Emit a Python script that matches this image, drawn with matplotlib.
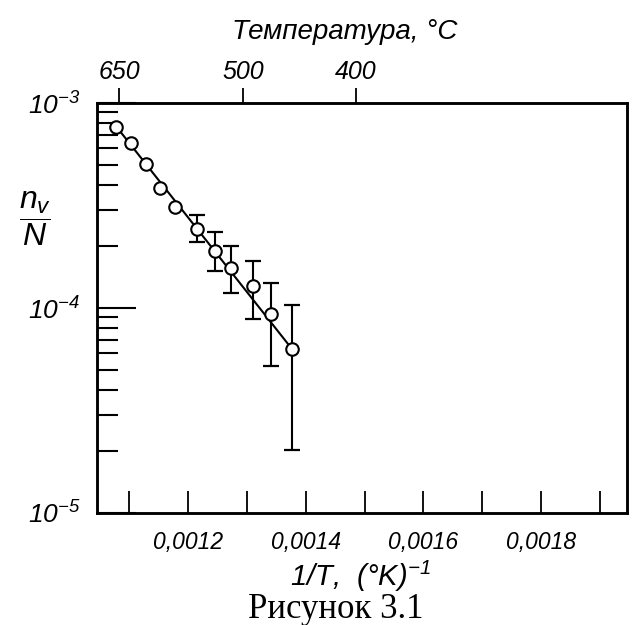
import numpy as np
import matplotlib
matplotlib.use("Agg")
import matplotlib.pyplot as plt
from matplotlib.ticker import LogLocator, NullFormatter, FixedLocator

plt.rcParams['font.family'] = ['Liberation Sans', 'DejaVu Sans']
plt.rcParams['font.style'] = 'italic'
plt.rcParams['mathtext.fontset'] = 'custom'
plt.rcParams['mathtext.it'] = 'Liberation Sans:italic'
plt.rcParams['mathtext.rm'] = 'Liberation Sans:italic'
plt.rcParams['mathtext.default'] = 'it'

# measured points: 1/T (K^-1) and n_v/N
inv_t = [0.001078, 0.001103, 0.001128, 0.001153, 0.001178, 0.001216,
         0.001246, 0.001274, 0.001310, 0.001341, 0.001377]
conc = [7.66e-4, 6.40e-4, 5.02e-4, 3.84e-4, 3.12e-4, 2.42e-4,
        1.90e-4, 1.57e-4, 1.28e-4, 9.35e-5, 6.30e-5]

# error bars exist for the last six points only
err_start = 5
err_hi = [2.85e-4, 2.34e-4, 2.01e-4, 1.70e-4, 1.33e-4, 1.03e-4]
err_lo = [2.10e-4, 1.51e-4, 1.19e-4, 8.8e-5, 5.2e-5, 2.03e-5]

# straight fitted line
fit_x = [0.001078, 0.001377]
fit_y = [7.7e-4, 6.3e-5]

top_temps = [650, 500, 400]   # degC
bottom_major = [0.0012, 0.0014, 0.0016, 0.0018]
bottom_minor = [0.0011, 0.0013, 0.0015, 0.0017, 0.0019]

fig = plt.figure(figsize=(6.35, 6.25), dpi=100)
ax = fig.add_axes([97/635, 1-513/625, 530/635, 410/625])

ax.plot(fit_x, fit_y, color='black', lw=1.5, zorder=2)

ex = np.array(inv_t[err_start:])
ey = np.array(conc[err_start:])
yerr = [ey - np.array(err_lo), np.array(err_hi) - ey]
ax.errorbar(ex, ey, yerr=yerr, fmt='none', ecolor='black', elinewidth=1.5,
            capsize=5.5, capthick=1.6, zorder=2)
ax.plot(inv_t, conc, 'o', ms=9, mfc='white', mec='black', mew=1.5, zorder=3)

ax.set_yscale('log')
ax.set_ylim(1e-5, 1e-3)
ax.set_xlim(0.0010456, 0.0019459)

for s in ax.spines.values():
    s.set_linewidth(1.8)

# y ticks: inward, left only
ax.yaxis.set_major_locator(FixedLocator([1e-5, 1e-4, 1e-3]))
ax.yaxis.set_minor_locator(LogLocator(base=10, subs=np.arange(2, 10)))
ax.yaxis.set_minor_formatter(NullFormatter())
ax.set_yticklabels([r'$10^{-5}$', r'$10^{-4}$', r'$10^{-3}$'])
ax.tick_params(axis='y', which='major', direction='in', length=28, width=1.5,
               pad=12, labelsize=19, right=False)
ax.tick_params(axis='y', which='minor', direction='in', length=15, width=1.5,
               right=False)

# x ticks: inward, bottom
ax.xaxis.set_major_locator(FixedLocator(bottom_major))
ax.xaxis.set_minor_locator(FixedLocator(bottom_minor))
ax.set_xticklabels([('%.4f' % v).replace('.', ',') for v in bottom_major])
ax.tick_params(axis='x', which='both', direction='in', length=16, width=1.3,
               pad=13, labelsize=16.5, top=False)

# top temperature axis
ax2 = ax.twiny()
ax2.set_xlim(ax.get_xlim())
ax2.set_xticks([1.0 / (t + 273.15) for t in top_temps])
ax2.set_xticklabels([str(t) for t in top_temps])
ax2.tick_params(axis='x', direction='out', length=11, width=1.3, pad=3,
                labelsize=18)
for s in ax2.spines.values():
    s.set_linewidth(1.8)

fig.text(345/635, 1-32/625, 'Температура, °C', ha='center', va='center',
         fontsize=20)
fig.text(360/635, 1-576/625, r'1/T,  (°K)$^{-1}$', ha='center', va='center',
         fontsize=21)
fig.text(35/635, 1-219/625, r'$\dfrac{n_v}{N}$', ha='center', va='center',
         fontsize=23)
fig.text(336/635, 1-618/625, 'Рисунок 3.1', ha='center', va='baseline',
         fontsize=25, family='Liberation Serif', style='normal')

fig.savefig('out.png', dpi=100)
